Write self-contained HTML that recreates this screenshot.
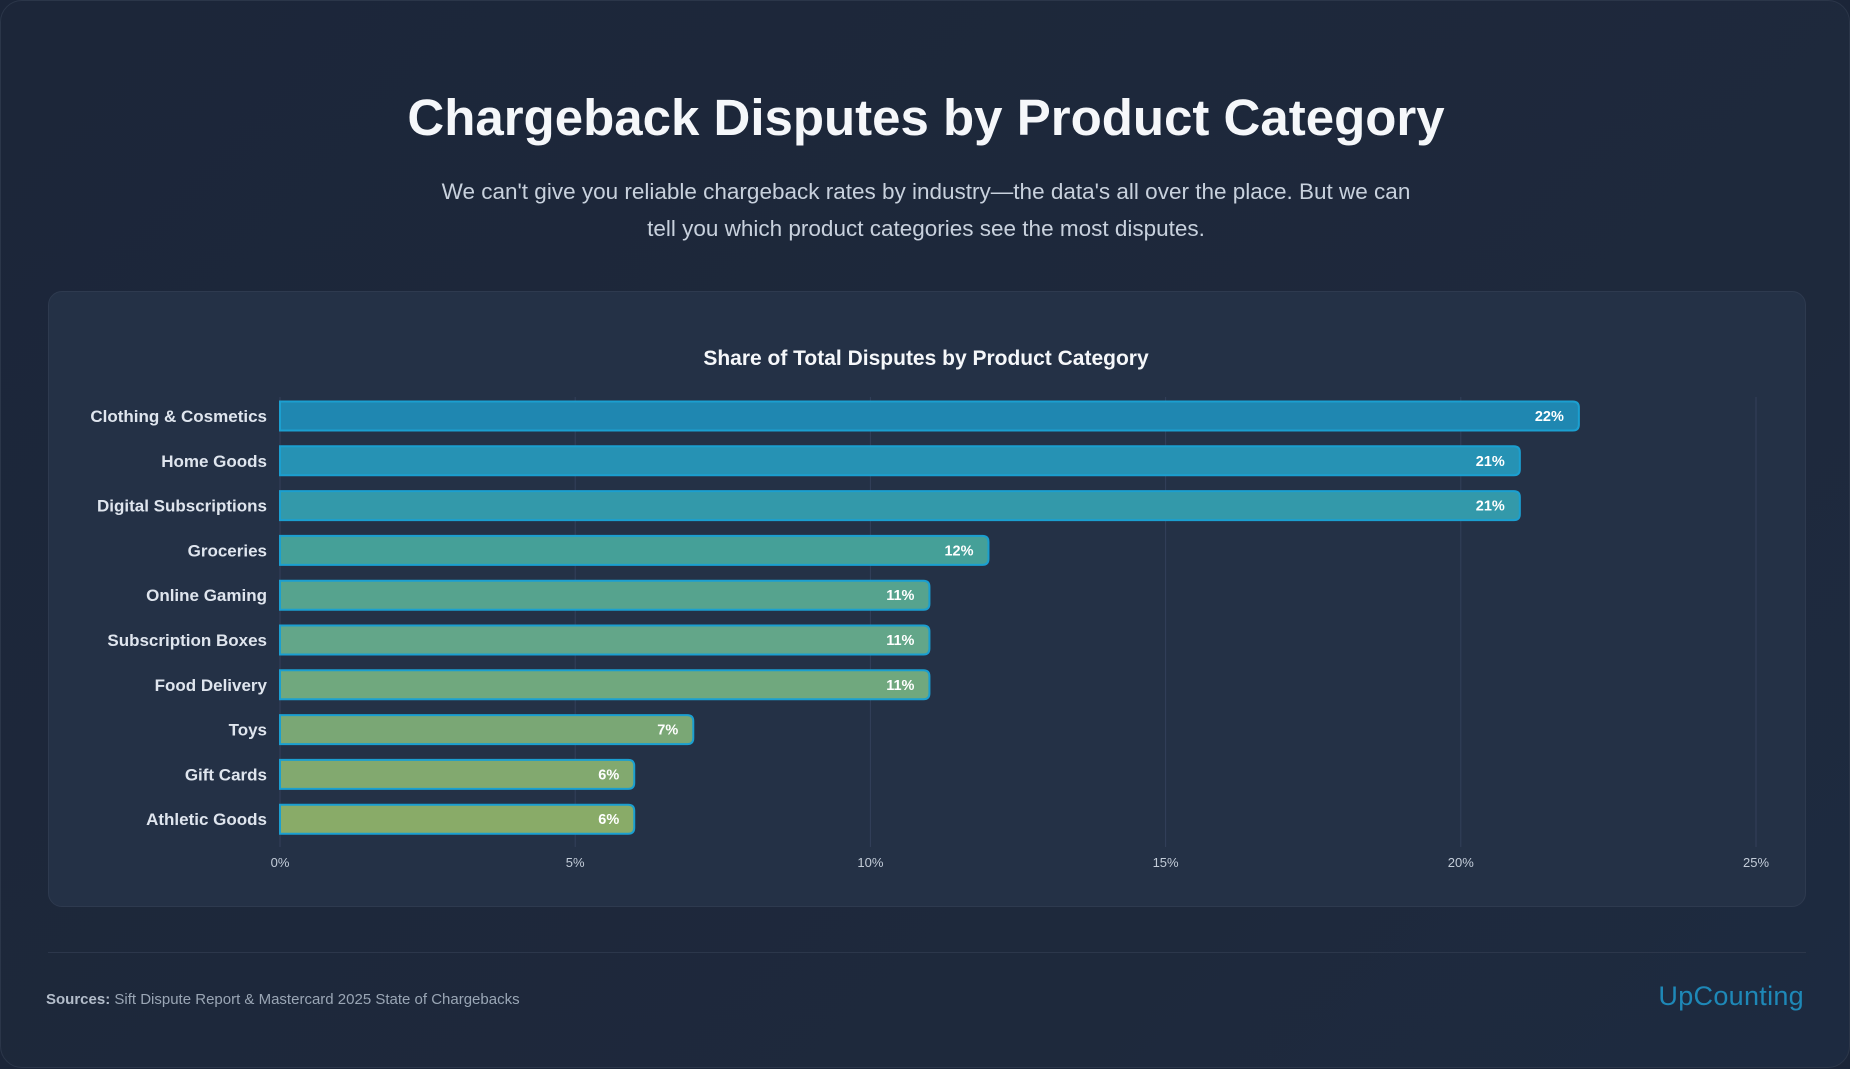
<!DOCTYPE html>
<html><head><meta charset="utf-8"><style>
html,body{margin:0;padding:0;width:1850px;height:1068px;overflow:hidden;background:#1b2538;}
#wrap{position:absolute;left:0;top:0;width:1848px;height:1066px;border:1px solid #2b3649;border-radius:22px;background:linear-gradient(135deg,#1c2639 0%,#1e293c 70%,#1d2a40 100%);font-family:"Liberation Sans",sans-serif;}
h1{position:absolute;left:0;width:1850px;top:87px;margin:0;text-align:center;font-size:51px;font-weight:bold;color:#f5f7fa;}
#sub{position:absolute;left:0;width:1850px;top:172px;text-align:center;font-size:22.5px;line-height:37px;color:#c8d1dd;}
#panel{position:absolute;left:47px;top:290px;width:1758px;height:616px;background:#243146;border:1px solid #2e3a4f;border-radius:14px;box-sizing:border-box;}
#sep{position:absolute;left:47px;top:951px;width:1758px;height:1px;background:#2c374b;}
#src{position:absolute;left:45px;top:990px;font-size:15px;color:#9aa6b5;}
#src b{color:#b3bdca;}
#logo{position:absolute;right:45px;top:980px;font-size:27px;color:#1e88b7;letter-spacing:0.3px;}
</style></head><body>
<div id="wrap">
<h1>Chargeback Disputes by Product Category</h1>
<div id="sub">We can't give you reliable chargeback rates by industry—the data's all over the place. But we can<br>tell you which product categories see the most disputes.</div>
<div id="panel"></div>
<svg id="chart" width="1850" height="1068" style="position:absolute;left:0;top:0">
<text x="925" y="364" text-anchor="middle" font-family="Liberation Sans, sans-serif" font-weight="bold" font-size="21" fill="#f5f7fa">Share of Total Disputes by Product Category</text>
<g id="grid"></g><g id="bars"></g>
</svg>
<div id="sep"></div>
<div id="src"><b>Sources:</b> Sift Dispute Report &amp; Mastercard 2025 State of Chargebacks</div>
<div id="logo">UpCounting</div>
</div>
<script>
const categories=["Clothing & Cosmetics","Home Goods","Digital Subscriptions","Groceries","Online Gaming","Subscription Boxes","Food Delivery","Toys","Gift Cards","Athletic Goods"];
const values=[22,21,21,12,11,11,11,7,6,6];
const ticks=[0,5,10,15,20,25];
const tickLabels=["0%","5%","10%","15%","20%","25%"];
const colors=["#1f87b1","#2692b4","#3399aa","#45a098","#56a38e","#63a689","#70a87e","#7aa775","#82a96f","#89ab68"];
const NS="http://www.w3.org/2000/svg";
const X0=279,X1=1755,XMAX=25,Y0=415,STEP=44.8,BH=31;
const x=v=>X0+(X1-X0)*v/XMAX;
const y=i=>Y0+i*STEP;
function mk(t,a,p){const e=document.createElementNS(NS,t);for(const k in a)e.setAttribute(k,a[k]);p.appendChild(e);return e;}
const grid=document.getElementById('grid'),bars=document.getElementById('bars');
ticks.forEach((t,i)=>{
 const l=mk('line',{x1:x(t),x2:x(t),y1:396,y2:846,stroke:'#33405a','stroke-width':1},grid);
 
 
 const tx=mk('text',{x:x(t),y:866,'text-anchor':'middle','font-family':'Liberation Sans, sans-serif','font-size':13,fill:'#c3ccd8'},grid);
 tx.textContent=tickLabels[i];
 
 
});
categories.forEach((c,i)=>{
 const cy=y(i),w=x(values[i])-X0,r=6;
 const top=cy-BH/2+1,h=BH-2;
 const p=mk('path',{d:`M${X0},${top} H${X0+w-r} Q${X0+w},${top} ${X0+w},${top+r} V${top+h-r} Q${X0+w},${top+h} ${X0+w-r},${top+h} H${X0} Z`,fill:colors[i],stroke:'#1b9fd0','stroke-width':2},bars);
 
 
 const lb=mk('text',{x:266,y:cy+6,'text-anchor':'end','font-family':'Liberation Sans, sans-serif','font-weight':'bold','font-size':17,fill:'#dfe5ee'},bars);
 lb.textContent=c;
 
 
 const vl=mk('text',{x:X0+w-15,y:cy+5,'text-anchor':'end','font-family':'Liberation Sans, sans-serif','font-weight':'bold','font-size':14.5,fill:'#ffffff'},bars);
 vl.textContent=values[i]+'%';
 
 
});
</script>
</body></html>
